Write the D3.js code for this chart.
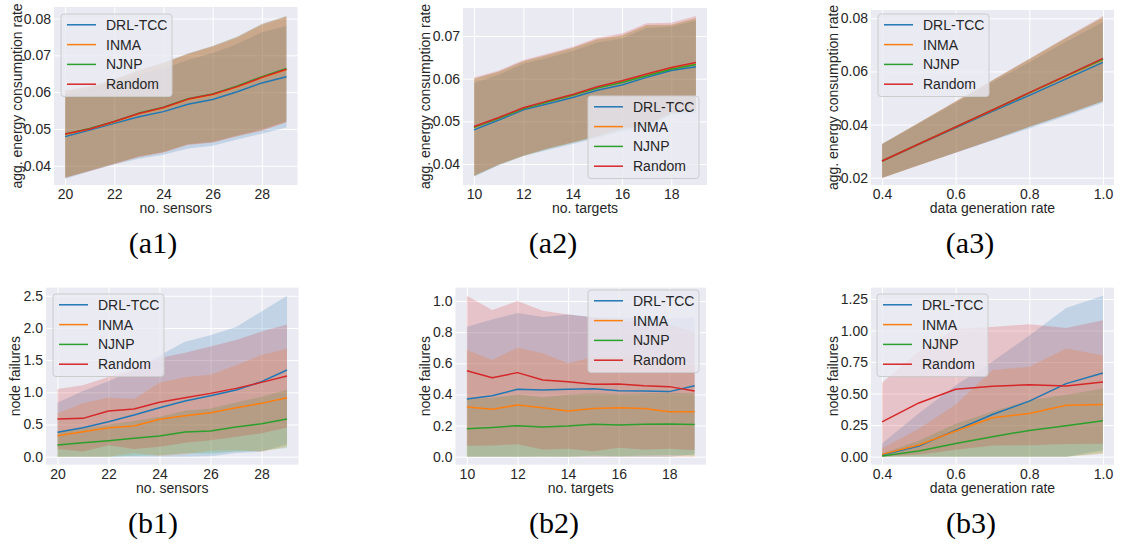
<!DOCTYPE html>
<html>
<head>
<meta charset="utf-8">
<script src="https://cdn.jsdelivr.net/npm/d3@7"></script>
<style>
  html, body { margin: 0; padding: 0; background: #ffffff; }
  svg { display: block; font-family: "Liberation Sans", Arial, sans-serif; }
  .tick text { fill: #262626; font-size: 14px; }
  .grid line { stroke: #ffffff; stroke-width: 1; }
  .grid path, .axis path { display: none; }
</style>
</head>
<body>
<svg id="fig" width="1121" height="544"></svg>
<script>
// Methods compared in every panel, in plotting order
const methods = ["DRL-TCC", "INMA", "NJNP", "Random"];
const colors = ["#1f77b4", "#ff7f0e", "#2ca02c", "#d62728"];

// X values
const sensorCounts = [20, 21, 22, 23, 24, 25, 26, 27, 28, 29];
const targetCounts = [10, 11, 12, 13, 14, 15, 16, 17, 18, 19];
const genRates = [0.4, 0.5, 0.6, 0.7, 0.8, 0.9, 1.0];

// (a1) energy consumption rate vs. number of sensors: mean and std per method
const a1Mean = [
  [0.0479, 0.0497, 0.0515, 0.0533, 0.0547, 0.0567, 0.0580, 0.0601, 0.0625, 0.0642],
  [0.0485, 0.0500, 0.0519, 0.0541, 0.0557, 0.0580, 0.0593, 0.0614, 0.0639, 0.0661],
  [0.0486, 0.0501, 0.0520, 0.0543, 0.0559, 0.0582, 0.0595, 0.0617, 0.0642, 0.0664],
  [0.0486, 0.0500, 0.0520, 0.0542, 0.0558, 0.0581, 0.0594, 0.0615, 0.0640, 0.0662]
];
const a1Std = [
  [0.0115, 0.0112, 0.0112, 0.0114, 0.0117, 0.0120, 0.0126, 0.0130, 0.0138, 0.0138],
  [0.0118, 0.0114, 0.0114, 0.0117, 0.0121, 0.0123, 0.0130, 0.0134, 0.0143, 0.0143],
  [0.0118, 0.0114, 0.0114, 0.0117, 0.0121, 0.0123, 0.0130, 0.0134, 0.0143, 0.0143],
  [0.0119, 0.0115, 0.0115, 0.0118, 0.0122, 0.0124, 0.0131, 0.0135, 0.0145, 0.0144]
];

// (a2) energy consumption rate vs. number of targets
const a2Mean = [
  [0.0480, 0.0503, 0.0527, 0.0541, 0.0556, 0.0573, 0.0585, 0.0603, 0.0619, 0.0628],
  [0.0486, 0.0507, 0.0530, 0.0546, 0.0561, 0.0579, 0.0592, 0.0608, 0.0623, 0.0634],
  [0.0486, 0.0507, 0.0530, 0.0546, 0.0561, 0.0578, 0.0591, 0.0607, 0.0622, 0.0633],
  [0.0488, 0.0509, 0.0532, 0.0548, 0.0563, 0.0581, 0.0595, 0.0611, 0.0626, 0.0638]
];
const a2Std = [
  [0.0110, 0.0106, 0.0108, 0.0108, 0.0109, 0.0112, 0.0109, 0.0116, 0.0103, 0.0108],
  [0.0114, 0.0109, 0.0111, 0.0110, 0.0111, 0.0114, 0.0110, 0.0118, 0.0104, 0.0108],
  [0.0114, 0.0109, 0.0111, 0.0110, 0.0111, 0.0114, 0.0110, 0.0118, 0.0104, 0.0108],
  [0.0115, 0.0110, 0.0112, 0.0111, 0.0112, 0.0115, 0.0111, 0.0119, 0.0105, 0.0109]
];

// (a3) energy consumption rate vs. data generation rate
const a3Mean = [
  [0.0263, 0.0326, 0.0388, 0.0450, 0.0510, 0.0572, 0.0634],
  [0.0263, 0.0327, 0.0391, 0.0454, 0.0519, 0.0582, 0.0645],
  [0.0263, 0.0327, 0.0391, 0.0455, 0.0519, 0.0583, 0.0646],
  [0.0263, 0.0327, 0.0391, 0.0455, 0.0520, 0.0584, 0.0649]
];
const a3Std = [
  [0.0063, 0.0078, 0.0094, 0.0110, 0.0125, 0.0140, 0.0152],
  [0.0064, 0.0080, 0.0096, 0.0112, 0.0127, 0.0143, 0.0157],
  [0.0064, 0.0080, 0.0096, 0.0112, 0.0128, 0.0144, 0.0158],
  [0.0064, 0.0080, 0.0097, 0.0113, 0.0128, 0.0145, 0.0160]
];

// (b1) node failures vs. number of sensors
const b1Mean = [
  [0.378, 0.450, 0.543, 0.647, 0.761, 0.864, 0.947, 1.035, 1.165, 1.346],
  [0.326, 0.388, 0.450, 0.476, 0.580, 0.637, 0.683, 0.761, 0.828, 0.916],
  [0.181, 0.217, 0.248, 0.285, 0.321, 0.383, 0.399, 0.461, 0.512, 0.585],
  [0.585, 0.595, 0.709, 0.740, 0.844, 0.916, 0.983, 1.061, 1.154, 1.253]
];
const b1Std = [
  [0.460, 0.570, 0.630, 0.700, 0.810, 0.920, 0.940, 0.980, 1.090, 1.154],
  [0.350, 0.440, 0.470, 0.420, 0.570, 0.600, 0.590, 0.660, 0.750, 0.760],
  [0.200, 0.220, 0.250, 0.270, 0.300, 0.330, 0.350, 0.380, 0.420, 0.450],
  [0.465, 0.515, 0.530, 0.620, 0.690, 0.700, 0.730, 0.750, 0.790, 0.800]
];

// (b2) node failures vs. number of targets
const b2Mean = [
  [0.370, 0.392, 0.433, 0.428, 0.433, 0.437, 0.424, 0.422, 0.418, 0.456],
  [0.319, 0.304, 0.332, 0.315, 0.293, 0.310, 0.315, 0.310, 0.289, 0.289],
  [0.180, 0.188, 0.199, 0.191, 0.197, 0.208, 0.203, 0.208, 0.210, 0.206],
  [0.552, 0.507, 0.540, 0.492, 0.482, 0.465, 0.467, 0.456, 0.450, 0.422]
];
const b2Std = [
  [0.465, 0.490, 0.490, 0.470, 0.480, 0.460, 0.470, 0.470, 0.470, 0.440],
  [0.366, 0.317, 0.368, 0.350, 0.307, 0.330, 0.330, 0.330, 0.300, 0.300],
  [0.190, 0.190, 0.200, 0.190, 0.200, 0.200, 0.200, 0.200, 0.200, 0.200],
  [0.482, 0.435, 0.460, 0.446, 0.432, 0.430, 0.410, 0.410, 0.400, 0.380]
];

// (b3) node failures vs. data generation rate
const b3Mean = [
  [0.013, 0.084, 0.210, 0.334, 0.440, 0.579, 0.663],
  [0.018, 0.092, 0.203, 0.308, 0.342, 0.408, 0.413],
  [0.005, 0.045, 0.105, 0.158, 0.208, 0.245, 0.284],
  [0.276, 0.426, 0.534, 0.558, 0.571, 0.561, 0.592]
];
const b3Std = [
  [0.092, 0.260, 0.356, 0.420, 0.520, 0.600, 0.613],
  [0.048, 0.130, 0.210, 0.380, 0.370, 0.450, 0.390],
  [0.020, 0.080, 0.155, 0.200, 0.240, 0.245, 0.256],
  [0.310, 0.410, 0.480, 0.470, 0.480, 0.460, 0.490]
];

// Tick values
const sensorTicks = [20, 22, 24, 26, 28];
const targetTicks = [10, 12, 14, 16, 18];
const rateTicks = [0.4, 0.6, 0.8, 1.0];
const a1YTicks = [0.04, 0.05, 0.06, 0.07, 0.08];
const a2YTicks = [0.04, 0.05, 0.06, 0.07];
const a3YTicks = [0.02, 0.04, 0.06, 0.08];
const b1YTicks = [0.0, 0.5, 1.0, 1.5, 2.0, 2.5];
const b2YTicks = [0.0, 0.2, 0.4, 0.6, 0.8, 1.0];
const b3YTicks = [0.0, 0.25, 0.5, 0.75, 1.0, 1.25];

// Panel layout
const panels = [
  { caption: "(a1)", xs: sensorCounts, mean: a1Mean, std: a1Std,
    box: { l: 54, r: 297.5, t: 7, b: 185 }, xDom: [19.55, 29.45], yDom: [0.03476, 0.08313],
    xTicks: sensorTicks, yTicks: a1YTicks, xFmt: "d", yFmt: ".2f",
    xLabel: "no. sensors", yLabel: "agg. energy consumption rate", yLabelX: 17,
    legend: { x: 61, y: 14 }, capX: 153, capY: 253 },
  { caption: "(a2)", xs: targetCounts, mean: a2Mean, std: a2Std,
    box: { l: 463, r: 707, t: 8, b: 185 }, xDom: [9.55, 19.45], yDom: [0.03508, 0.07656],
    xTicks: targetTicks, yTicks: a2YTicks, xFmt: "d", yFmt: ".2f",
    xLabel: "no. targets", yLabel: "agg. energy consumption rate", yLabelX: 425,
    legend: { x: 588, y: 96 }, capX: 553, capY: 253 },
  { caption: "(a3)", xs: genRates, mean: a3Mean, std: a3Std,
    box: { l: 871, r: 1114, t: 10, b: 185 }, xDom: [0.37, 1.03], yDom: [0.01725, 0.08312],
    xTicks: rateTicks, yTicks: a3YTicks, xFmt: ".1f", yFmt: ".2f",
    xLabel: "data generation rate", yLabel: "agg. energy consumption rate", yLabelX: 833,
    legend: { x: 878, y: 14 }, capX: 970, capY: 253 },
  { caption: "(b1)", xs: sensorCounts, mean: b1Mean, std: b1Std,
    box: { l: 46, r: 298.5, t: 287.7, b: 464.7 }, xDom: [19.55, 29.45], yDom: [-0.125, 2.625],
    xTicks: sensorTicks, yTicks: b1YTicks, xFmt: "d", yFmt: ".1f",
    xLabel: "no. sensors", yLabel: "node failures", yLabelX: 15,
    legend: { x: 53, y: 294 }, capX: 153, capY: 533 },
  { caption: "(b2)", xs: targetCounts, mean: b2Mean, std: b2Std,
    box: { l: 455.5, r: 706, t: 287.7, b: 464.7 }, xDom: [9.55, 19.45], yDom: [-0.0517, 1.0857],
    xTicks: targetTicks, yTicks: b2YTicks, xFmt: "d", yFmt: ".1f",
    xLabel: "no. targets", yLabel: "node failures", yLabelX: 425,
    legend: { x: 588, y: 290 }, capX: 554, capY: 533 },
  { caption: "(b3)", xs: genRates, mean: b3Mean, std: b3Std,
    box: { l: 871, r: 1114, t: 287.7, b: 464.7 }, xDom: [0.37, 1.03], yDom: [-0.064, 1.34],
    xTicks: rateTicks, yTicks: b3YTicks, xFmt: ".1f", yFmt: ".2f",
    xLabel: "data generation rate", yLabel: "node failures", yLabelX: 833,
    legend: { x: 877, y: 294 }, capX: 971, capY: 533 }
];

const svg = d3.select("#fig");
const textColor = "#262626";
const fontSize = 14;

panels.forEach((p, pi) => {
  const { l, r, t, b } = p.box;
  const w = r - l, h = b - t;
  const x = d3.scaleLinear().domain(p.xDom).range([l, r]);
  const y = d3.scaleLinear().domain(p.yDom).range([b, t]);
  const g = svg.append("g");

  // axes background
  g.append("rect").attr("x", l).attr("y", t).attr("width", w).attr("height", h)
    .attr("fill", "#eaeaf2");

  // white grid
  g.append("g").attr("class", "grid").attr("transform", `translate(0,${b})`)
    .call(d3.axisBottom(x).tickValues(p.xTicks).tickSize(-h).tickFormat(""));
  g.append("g").attr("class", "grid").attr("transform", `translate(${l},0)`)
    .call(d3.axisLeft(y).tickValues(p.yTicks).tickSize(-w).tickFormat(""));

  // clip to axes area
  const clipId = "clip" + pi;
  svg.append("clipPath").attr("id", clipId).append("rect")
    .attr("x", l).attr("y", t).attr("width", w).attr("height", h);
  const plot = g.append("g").attr("clip-path", `url(#${clipId})`);

  // mean ± std bands
  methods.forEach((m, k) => {
    const rows = p.xs.map((xv, i) => ({ x: xv, m: p.mean[k][i], s: p.std[k][i] }));
    const area = d3.area()
      .x(d => x(d.x))
      .y0(d => y(Math.max(0, d.m - d.s)))
      .y1(d => y(d.m + d.s));
    plot.append("path").datum(rows).attr("d", area)
      .attr("fill", colors[k]).attr("fill-opacity", 0.2).attr("stroke", "none");
  });

  // mean lines
  methods.forEach((m, k) => {
    const rows = p.xs.map((xv, i) => ({ x: xv, m: p.mean[k][i] }));
    const line = d3.line().x(d => x(d.x)).y(d => y(d.m));
    plot.append("path").datum(rows).attr("d", line)
      .attr("fill", "none").attr("stroke", colors[k]).attr("stroke-width", 1.5)
      .attr("stroke-linejoin", "round");
  });

  // tick labels
  const xa = g.append("g").attr("class", "axis").attr("transform", `translate(0,${b})`)
    .call(d3.axisBottom(x).tickValues(p.xTicks).tickSize(0).tickPadding(4)
      .tickFormat(d3.format(p.xFmt)));
  const ya = g.append("g").attr("class", "axis").attr("transform", `translate(${l},0)`)
    .call(d3.axisLeft(y).tickValues(p.yTicks).tickSize(0).tickPadding(3)
      .tickFormat(d3.format(p.yFmt)));
  xa.selectAll("text").attr("font-family", null);
  ya.selectAll("text").attr("font-family", null);

  // axis titles
  g.append("text").attr("x", (l + r) / 2).attr("y", b + 28)
    .attr("text-anchor", "middle").attr("fill", textColor).attr("font-size", fontSize)
    .text(p.xLabel);
  g.append("text")
    .attr("transform", `translate(${p.yLabelX},${(t + b) / 2}) rotate(-90)`)
    .attr("text-anchor", "middle").attr("dominant-baseline", "central")
    .attr("fill", textColor).attr("font-size", fontSize)
    .text(p.yLabel);

  // legend
  const lg = g.append("g").attr("transform", `translate(${p.legend.x},${p.legend.y})`);
  lg.append("rect").attr("x", 0).attr("y", 0).attr("width", 111).attr("height", 82.5)
    .attr("rx", 3).attr("fill", "#eaeaf2").attr("fill-opacity", 0.8)
    .attr("stroke", "#cccccc").attr("stroke-width", 1);
  methods.forEach((m, k) => {
    const yy = 10.8 + k * 19.8;
    lg.append("line").attr("x1", 6).attr("x2", 35).attr("y1", yy).attr("y2", yy)
      .attr("stroke", colors[k]).attr("stroke-width", 1.5);
    lg.append("text").attr("x", 45).attr("y", yy).attr("dominant-baseline", "central")
      .attr("fill", textColor).attr("font-size", fontSize).text(m);
  });

  // sub-figure caption
  svg.append("text").attr("x", p.capX).attr("y", p.capY).attr("text-anchor", "middle")
    .attr("font-family", "'Liberation Serif', 'Times New Roman', serif")
    .attr("font-size", 30).attr("fill", "#000000").text(p.caption);
});
</script>
</body>
</html>
